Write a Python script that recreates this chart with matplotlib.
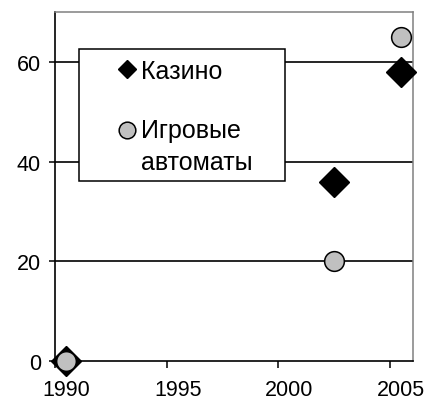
import matplotlib
matplotlib.use("Agg")
import matplotlib.pyplot as plt
from matplotlib.legend_handler import HandlerLine2D
from matplotlib.lines import Line2D
from matplotlib.patches import Rectangle

plt.rcParams["font.family"] = ["Liberation Sans", "DejaVu Sans"]

YEARS = [1990, 2002, 2005]
CASINO = [0, 36, 58]
SLOTS = [0, 20, 65]
LABELS = ["Казино", "Игровые\nавтоматы"]
YTICKS = [0, 20, 40, 60]
XLABEL_YEARS = [1990, 1995, 2000, 2005]

GRAY = "#c0c0c0"


class FirstLineHandler(HandlerLine2D):
    """Put the marker next to the first line of a two-line label."""

    def __init__(self, dy, **kw):
        super().__init__(**kw)
        self.dy = dy

    def create_artists(self, legend, orig_handle, xdescent, ydescent,
                       width, height, fontsize, trans):
        arts = super().create_artists(legend, orig_handle, xdescent, ydescent,
                                      width, height, fontsize, trans)
        for a in arts:
            a.set_ydata([y + self.dy * fontsize for y in a.get_ydata()])
        return arts


fig = plt.figure(figsize=(4.30, 4.06), dpi=100)
ax = fig.add_axes([55 / 430, 1 - 362 / 406, 358 / 430, 349 / 406])

ax.set_xlim(1989.5, 2005.53)
ax.set_ylim(0, 70)

# gridlines at 20/40/60 (black, like the old Excel charts)
for y in YTICKS[1:]:
    ax.axhline(y, color="black", lw=1.2, zorder=1)

ax.plot(YEARS, CASINO, ls="none", marker="D", ms=15, color="black",
        mec="black", clip_on=False, zorder=6)
ax.plot(YEARS, SLOTS, ls="none", marker="o", ms=14.2, mfc=GRAY,
        mec="black", mew=1.1, clip_on=False, zorder=7)

# ticks sit half a year before the labels
ax.set_xticks([x - 0.5 for x in XLABEL_YEARS])
ax.set_xticklabels([])
ax.set_xticks(XLABEL_YEARS, minor=True)
ax.set_xticklabels([str(x) for x in XLABEL_YEARS], minor=True)
ax.tick_params(axis="x", which="major", length=5, width=1.1, direction="out")
ax.tick_params(axis="x", which="minor", length=0, pad=13, labelsize=15.5)
ax.set_yticks(YTICKS)
ax.tick_params(axis="y", length=4, width=1.1, direction="out", pad=6,
               labelsize=15.5)

for s in ["top", "right"]:
    ax.spines[s].set_color("#808080")
    ax.spines[s].set_linewidth(1.1)
for s in ["left", "bottom"]:
    ax.spines[s].set_color("black")
    ax.spines[s].set_linewidth(1.2)

# legend box
ax.add_patch(Rectangle((24 / 358, 180 / 349), 206 / 358, 132 / 349,
                       transform=ax.transAxes, facecolor="white",
                       edgecolor="black", lw=1.1, zorder=4))

h1 = Line2D([], [], ls="none", marker="D", ms=9, color="black")
h2 = Line2D([], [], ls="none", marker="o", ms=12, mfc=GRAY, mec="black", mew=1.1)
leg = ax.legend([h1, h2], LABELS, loc="upper left",
                bbox_to_anchor=(62 / 358, 302 / 349), frameon=False,
                fontsize=18, handlelength=0.8, handletextpad=0.15,
                borderpad=0, borderaxespad=0, labelspacing=1.39,
                handler_map={h2: FirstLineHandler(0.66)})
leg.set_zorder(5)
for t in leg.get_texts():
    t.set_linespacing(1.45)

fig.savefig("out.png", dpi=100)
